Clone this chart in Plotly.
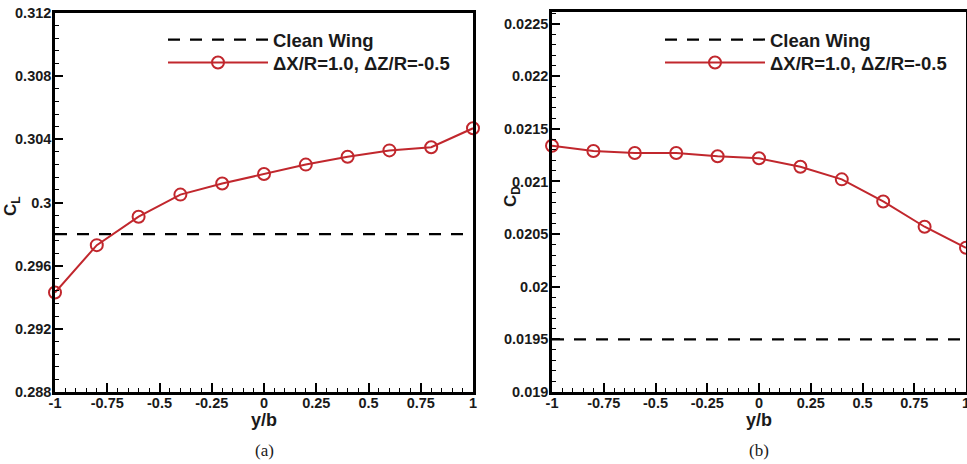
import plotly.graph_objects as go

# ---- data ----
y_b = [-1.0, -0.8, -0.6, -0.4, -0.2, 0.0, 0.2, 0.4, 0.6, 0.8, 1.0]
cl_case = [0.2943, 0.2973, 0.2991, 0.3005, 0.3012, 0.3018, 0.3024, 0.3029, 0.3033, 0.3035, 0.3047]
cd_case = [0.02134, 0.02129, 0.02127, 0.02127, 0.02124, 0.02122, 0.02114, 0.02102, 0.02081, 0.02057, 0.02037]
cl_clean = 0.2980
cd_clean = 0.0195
x_ticks = [-1, -0.75, -0.5, -0.25, 0, 0.25, 0.5, 0.75, 1]
x_ticklabels = ["-1", "-0.75", "-0.5", "-0.25", "0", "0.25", "0.5", "0.75", "1"]
cl_ticks = [0.288, 0.292, 0.296, 0.3, 0.304, 0.308, 0.312]
cl_ticklabels = ["0.288", "0.292", "0.296", "0.3", "0.304", "0.308", "0.312"]
cd_ticks = [0.019, 0.0195, 0.02, 0.0205, 0.021, 0.0215, 0.022, 0.0225]
cd_ticklabels = ["0.019", "0.0195", "0.02", "0.0205", "0.021", "0.0215", "0.022", "0.0225"]
clean_name = "Clean Wing"
case_name = "ΔX/R=1.0, ΔZ/R=-0.5"

RED = "#c1272d"
W, H = 967, 464
FONT = "Liberation Sans, Arial, sans-serif"
TXT = "#1a1a1a"

fig = go.Figure()

def add_panel(xa, ya, vals, clean, leg_clean, leg_case):
    fig.add_trace(go.Scatter(
        x=[y_b[0], y_b[-1]], y=[clean, clean], mode="lines", name=clean_name,
        line=dict(color="black", width=2.2, dash="12px,10px"),
        xaxis=xa, yaxis=ya, legend=leg_clean))
    fig.add_trace(go.Scatter(
        x=y_b, y=vals, mode="lines+markers", name=case_name,
        line=dict(color=RED, width=2),
        marker=dict(symbol="circle-open", size=12, color=RED, line=dict(width=2, color=RED)),
        xaxis=xa, yaxis=ya, legend=leg_case, cliponaxis=False))

add_panel("x", "y", cl_case, cl_clean, "legend", "legend2")
add_panel("x2", "y2", cd_case, cd_clean, "legend3", "legend4")

tickfont = dict(family=FONT, size=14.5, color=TXT, weight="bold")

def xaxis_cfg(domain, anchor):
    return dict(
        domain=domain, range=[-1, 1], tickvals=x_ticks, ticktext=x_ticklabels, anchor=anchor,
        ticks="inside", ticklen=9, tickwidth=2, tickcolor="black",
        minor=dict(ticks="inside", dtick=0.05, ticklen=4, tickwidth=1.2, tickcolor="black"),
        showline=True, linecolor="black", linewidth=2.5, mirror=True, automargin=False,
        showgrid=False, zeroline=False, tickfont=tickfont, ticklabelstandoff=-4,
        ticklabeloverflow="allow")

def yaxis_cfg(domain, rng, tv, tt, mdt, anchor):
    return dict(
        domain=domain, range=rng, tickvals=tv, ticktext=tt, anchor=anchor,
        ticks="inside", ticklen=8, tickwidth=2, tickcolor="black",
        minor=dict(ticks="inside", dtick=mdt, tick0=rng[0], ticklen=4, tickwidth=1.2, tickcolor="black"),
        showline=True, linecolor="black", linewidth=2.5, mirror=True, automargin=False,
        showgrid=False, zeroline=False, tickfont=tickfont, ticklabelstandoff=-2,
        ticklabeloverflow="allow")

xd1 = [55 / W, 473 / W]
xd2 = [552 / W, 966 / W]
yd1 = [(H - 392) / H, (H - 13) / H]
yd2 = [(H - 392) / H, (H - 12) / H]

leg_font = dict(family=FONT, size=18.5, color=TXT, weight="bold")

def leg(xpx, ypx):
    return dict(x=xpx / W, y=1 - ypx / H, xanchor="left", yanchor="middle", font=leg_font,
                itemwidth=100, bgcolor="rgba(0,0,0,0)")

fig.update_layout(
    width=W, height=H, margin=dict(l=0, r=0, t=0, b=0, autoexpand=False),
    paper_bgcolor="white", plot_bgcolor="white", showlegend=True,
    xaxis=xaxis_cfg(xd1, "y"), xaxis2=xaxis_cfg(xd2, "y2"),
    yaxis=yaxis_cfg(yd1, [0.288, 0.312], cl_ticks, cl_ticklabels, 0.0008, "x"),
    yaxis2=yaxis_cfg(yd2, [0.019, 0.02261], cd_ticks, cd_ticklabels, 0.0001, "x2"),
    legend=leg(163, 40), legend2=leg(163, 63),
    legend3=leg(660, 40), legend4=leg(660, 63),
)

ann = []
for cx, lab in [((xd1[0] + xd1[1]) / 2, "(a)"), ((xd2[0] + xd2[1]) / 2, "(b)")]:
    ann.append(dict(x=cx, y=1 - 420 / H, xref="paper", yref="paper", text="<b>y/b</b>",
                    showarrow=False, font=dict(family=FONT, size=18, color=TXT),
                    xanchor="center", yanchor="middle"))
    ann.append(dict(x=cx, y=1 - 450 / H, xref="paper", yref="paper", text=lab,
                    showarrow=False, font=dict(family="Liberation Serif, Times New Roman, serif", size=17, color=TXT),
                    xanchor="center", yanchor="middle"))
ann.append(dict(x=12 / W, y=1 - 206 / H, xref="paper", yref="paper", text="<b>C<sub>L</sub></b>",
                textangle=-90, showarrow=False, font=dict(family=FONT, size=17, color=TXT),
                xanchor="center", yanchor="middle"))
ann.append(dict(x=512 / W, y=1 - 197 / H, xref="paper", yref="paper", text="<b>C<sub>D</sub></b>",
                textangle=-90, showarrow=False, font=dict(family=FONT, size=17, color=TXT),
                xanchor="center", yanchor="middle"))
fig.update_layout(annotations=ann)

fig.write_html("out.html")
